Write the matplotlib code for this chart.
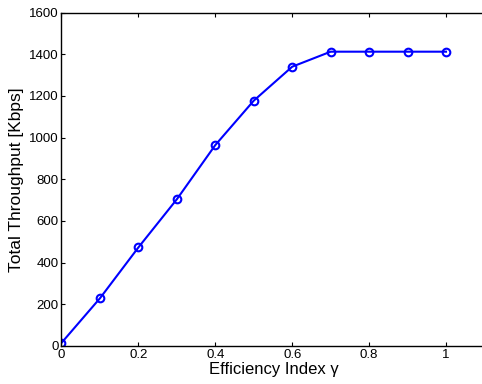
import matplotlib
matplotlib.use("Agg")
import matplotlib.pyplot as plt

gamma = [0.0, 0.1, 0.2, 0.3, 0.4, 0.5, 0.6, 0.7, 0.8, 0.9, 1.0]
throughput = [15, 229, 473, 704, 964, 1177, 1340, 1412, 1412, 1412, 1412]
xticks = [0, 0.2, 0.4, 0.6, 0.8, 1]
xticklabels = ["0", "0.2", "0.4", "0.6", "0.8", "1"]
yticks = [0, 200, 400, 600, 800, 1000, 1200, 1400, 1600]

plt.rcParams['font.family'] = ['Liberation Sans', 'DejaVu Sans']

x0 = 61.5
unit = 384.5  # pixels per 1.0 in x
xmax = 1.105
fig = plt.figure(figsize=(4.82, 3.84), dpi=100)
ax = fig.add_axes([x0/482, 38/384, unit*xmax/482, 333.5/384])
ax.plot(gamma, throughput, color='#0000ff', linewidth=1.5, marker='o',
        markersize=5.5, markerfacecolor='none', markeredgewidth=1.5, markeredgecolor='#0000ff')
ax.set_xlim(0, xmax)
ax.set_ylim(0, 1600)
ax.set_xticks(xticks)
ax.set_xticklabels(xticklabels)
ax.set_yticks(yticks)
ax.tick_params(direction='in', top=True, right=True, length=3, width=0.8,
               labelsize=9.5, pad=2)
for s in ax.spines.values():
    s.set_linewidth(1.0)
ax.set_xlabel("Efficiency Index γ", fontsize=12, labelpad=1)
ax.set_ylabel("Total Throughput [Kbps]", fontsize=12.5, labelpad=4)
fig.savefig("out.png", dpi=100)
